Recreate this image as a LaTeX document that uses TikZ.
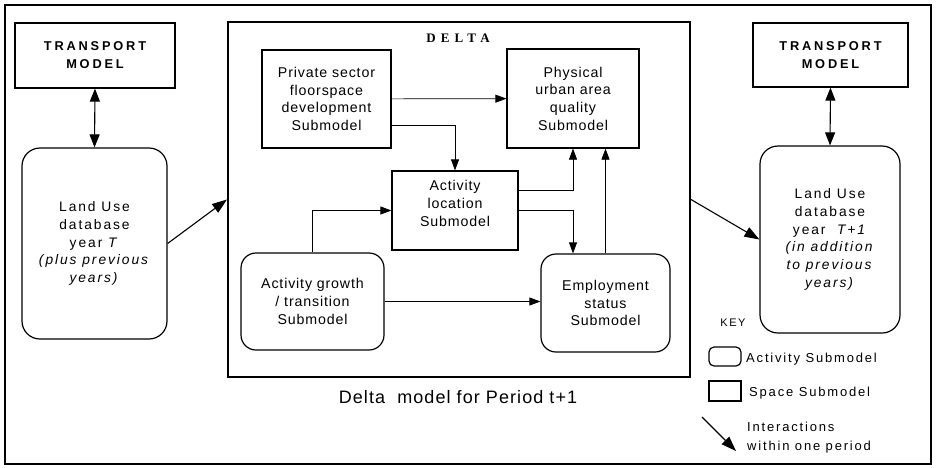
\documentclass[tikz,border=0pt]{standalone}
\usepackage{fontspec}
\setmainfont{Liberation Sans}
\newfontfamily\subfont[LetterSpace=6]{Liberation Sans}
\newfontfamily\widefont[LetterSpace=14]{Liberation Sans}
\newfontfamily\trfont[LetterSpace=22]{Liberation Sans}
\newfontfamily\dlfont[LetterSpace=40]{Liberation Serif}
\usetikzlibrary{arrows.meta}
\begin{document}
\begin{tikzpicture}[x=1pt,y=-1pt,
  sbox/.style={draw, line width=1.2pt, align=center, inner sep=0pt, font=\subfont\fontsize{14.2}{17.7}\selectfont},
  abox/.style={sbox, rounded corners=15pt},
  lubox/.style={draw, line width=1.2pt, align=center, inner sep=0pt, rounded corners=18pt, font=\widefont\fontsize{13.8}{17.7}\selectfont},
  trbox/.style={draw, line width=1.2pt, align=center, inner sep=0pt, font=\trfont\bfseries\fontsize{12.8}{18}\selectfont},
  arr/.style={-{Triangle[length=11pt,width=8pt]}, line width=0.7pt},
  bigarr/.style={-{Triangle[length=15pt,width=10.5pt]}, line width=1.1pt},
  dblarr/.style={{Triangle[length=13pt,width=10pt]}-{Triangle[length=13pt,width=10pt]}, line width=1.1pt},
  keytext/.style={anchor=west, inner sep=0pt, align=left, font=\widefont\fontsize{13}{19}\selectfont}]
\useasboundingbox (0,0) rectangle (936,467);
\draw[line width=1.5pt] (5,5) rectangle (931,464);

% left side
\node[trbox, minimum width=160pt, minimum height=65pt] (tr1) at (95,55.5) {TRANSPORT\\MODEL};
\node[lubox, minimum width=145pt, minimum height=191pt] (lu1) at (94.5,243.5)
  {Land Use\\database\\year \textit{T}\\\textit{(plus previous}\\\textit{years)}};
\draw[dblarr] (tr1.south) -- (lu1.north);

% delta
\node[draw, line width=2pt, minimum width=462pt, minimum height=355pt, inner sep=0pt] (delta) at (459,199.5) {};
\node[inner sep=0pt, font=\dlfont\bfseries\fontsize{13}{15}\selectfont] (dtitle) at (458,38) {DELTA};
\node[sbox, minimum width=129pt, minimum height=98pt] (priv) at (326.5,99) {Private sector\\floorspace\\development\\Submodel};
\node[sbox, minimum width=132pt, minimum height=99pt] (phys) at (573,98.5) {Physical\\urban area\\quality\\Submodel};
\node[sbox, minimum width=126pt, minimum height=79pt, text depth=14pt] (aloc) at (455,210.5) {Activity\\location\\Submodel};
\node[abox, minimum width=143pt, minimum height=97pt] (grow) at (312.5,301.5) {Activity growth\\/ transition\\Submodel};
\node[abox, minimum width=129pt, minimum height=98pt] (emp) at (605.5,303) {Employment\\status\\Submodel};

\draw[arr] (priv) -- (phys);
\draw[arr] ([yshift=-26pt]priv.east) -| (aloc.north);
\draw[arr] ([yshift=20pt]aloc.east) -| (phys.south);
\draw[arr] (aloc.east) -| (phys.south |- emp.north);
\draw[arr] (emp.north) -- (emp.north |- phys.south);
\draw[arr] (grow.north) |- (aloc.west);
\draw[arr] (grow.east) -- (grow.east -| emp.west);

\node[inner sep=0pt, font=\subfont\fontsize{18}{20}\selectfont] (cap) at (458,397) {Delta\ \ model for Period t+1};

\draw[bigarr] (lu1.east) -- (delta.west);

% right side
\node[trbox, minimum width=155pt, minimum height=64pt] (tr2) at (830.5,55) {TRANSPORT\\MODEL};
\node[lubox, minimum width=140pt, minimum height=187pt] (lu2) at (830,239.5)
  {Land Use\\database\\year\ \ \textit{T+1}\\\textit{(in addition}\\\textit{to previous}\\\textit{years)}};
\draw[dblarr] (tr2.south) -- (lu2.north);
\draw[bigarr] (delta.east) -- (lu2.west);

% key
\node[inner sep=0pt, font=\widefont\fontsize{11}{13}\selectfont] (key) at (733,323) {KEY};
\node[draw, line width=1.2pt, rounded corners=5pt, minimum width=32pt, minimum height=19pt, inner sep=0pt] (ka) at (725,356.5) {};
\node[keytext] (kat) at (746,359) {Activity Submodel};
\node[draw, line width=1.2pt, minimum width=32pt, minimum height=20pt, inner sep=0pt] (ks) at (725,391) {};
\node[keytext] (kst) at (749,393) {Space Submodel};
\coordinate (kia) at (702,417);
\coordinate (kib) at (736,451);
\draw[bigarr] (kia) -- (kib);
\node[keytext] (kit) at (747,438) {Interactions\\within one period};
\end{tikzpicture}
\end{document}
